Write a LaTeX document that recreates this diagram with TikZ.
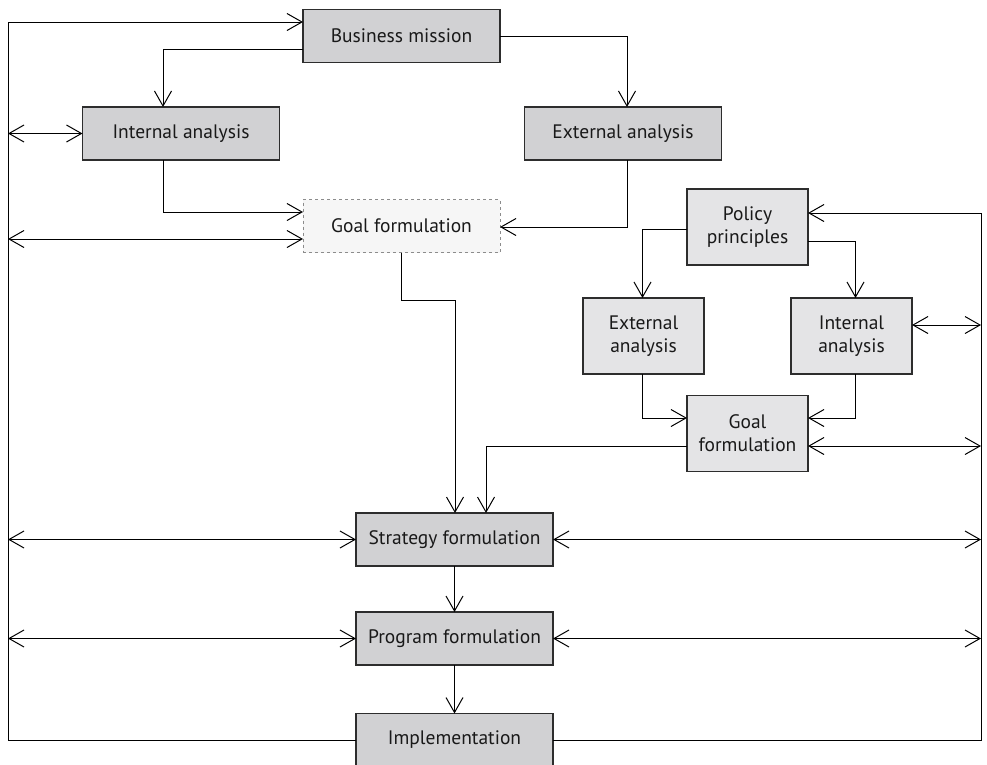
\documentclass[tikz,border=0pt]{standalone}
\usepackage{fontspec}
\setmainfont{PT Sans}
\usetikzlibrary{arrows.meta}
\definecolor{boxfill}{RGB}{209,209,211}
\definecolor{lightfill}{RGB}{228,228,230}
\definecolor{dashfill}{RGB}{246,246,246}
\definecolor{edge}{RGB}{45,45,45}
\definecolor{txt}{RGB}{25,25,25}
\begin{document}
\begin{tikzpicture}[x=1pt,y=-1pt,
  mainbox/.style={draw=edge, line width=1.4pt, fill=boxfill, text=txt, minimum width=197pt, minimum height=53pt, inner sep=0pt, outer sep=0pt, align=center, font=\fontsize{19.5}{22}\selectfont},
  smallbox/.style={draw=edge, line width=1.4pt, fill=lightfill, text=txt, minimum width=121pt, minimum height=76pt, inner sep=0pt, outer sep=0pt, align=center, font=\fontsize{19.5}{23}\selectfont},
  dashbox/.style={draw=black!45, dashed, line width=1pt, fill=dashfill, text=txt, minimum width=197pt, minimum height=53pt, inner sep=0pt, outer sep=0pt, align=center, font=\fontsize{19.5}{22}\selectfont},
  conn/.style={draw=black, line width=1pt},
  arr/.style={conn, -{Straight Barb[length=15pt,width=17pt,line width=1pt]}},
  dbl/.style={conn, {Straight Barb[length=15pt,width=17pt,line width=1pt]}-{Straight Barb[length=15pt,width=17pt,line width=1pt]}}
]
\useasboundingbox (0,0) rectangle (987,764);
% nodes
\node[mainbox] (bm) at (401.5,36) {Business mission};
\node[mainbox] (ia) at (181,133.5) {Internal analysis};
\node[mainbox] (ea) at (623,133.5) {External analysis};
\node[dashbox] (gf) at (401.5,226) {Goal formulation};
\node[smallbox] (pp) at (747.5,227) {Policy\\principles};
\node[smallbox] (ea2) at (643.5,336) {External\\analysis};
\node[smallbox] (ia2) at (851.5,336) {Internal\\analysis};
\node[smallbox] (gf2) at (747.5,433.5) {Goal\\formulation};
\node[mainbox] (sf) at (454.5,539.5) {Strategy formulation};
\node[mainbox] (pf) at (454.5,638.5) {Program formulation};
\node[mainbox] (im) at (454.5,740) {Implementation};
% frame coordinates
\coordinate (L) at (8,0);
\coordinate (R) at (981,0);
\coordinate (k) at (455,300);
% outer feedback loops
\draw[arr] (im.west) -- (im.west -| L) |- ([yshift=14pt]bm.west);
\draw[arr] (im.east) -- (im.east -| R) |- ([yshift=14pt]pp.east);
% top part
\draw[arr] ([yshift=-13pt]bm.west) -| ([xshift=-18pt]ia.north);
\draw[arr] (bm.east) -| ([xshift=4pt]ea.north);
\draw[arr] ([xshift=-18pt]ia.south) |- ([yshift=14pt]gf.west);
\draw[arr] ([xshift=4pt]ea.south) |- ([yshift=-1pt]gf.east);
\draw[dbl] (ia.west -| L) -- (ia.west);
\draw[dbl] ([yshift=-13pt]gf.west -| L) -- ([yshift=-13pt]gf.west);
\draw[arr] (gf.south) |- (k) -- (k |- sf.north);
% right cluster
\draw[arr] ([yshift=-2pt]pp.west) -| ([xshift=-1pt]ea2.north);
\draw[arr] ([yshift=-14pt]pp.east) -| ([xshift=4pt]ia2.north);
\draw[arr] ([xshift=-1pt]ea2.south) |- ([yshift=15.5pt]gf2.west);
\draw[arr] ([xshift=4pt]ia2.south) |- ([yshift=15.5pt]gf2.east);
\draw[dbl] ([yshift=11pt]ia2.east) -- ([yshift=11pt]ia2.east -| R);
\draw[dbl] ([yshift=-12.5pt]gf2.east) -- ([yshift=-12.5pt]gf2.east -| R);
\draw[arr] ([yshift=-12.5pt]gf2.west) -| ([xshift=31.5pt]sf.north);
% lower part
\draw[dbl] (sf.west -| L) -- (sf.west);
\draw[dbl] (sf.east) -- (sf.east -| R);
\draw[dbl] (pf.west -| L) -- (pf.west);
\draw[dbl] (pf.east) -- (pf.east -| R);
\draw[arr] (sf.south) -- (pf.north);
\draw[arr] (pf.south) -- (im.north);
\end{tikzpicture}
\end{document}
